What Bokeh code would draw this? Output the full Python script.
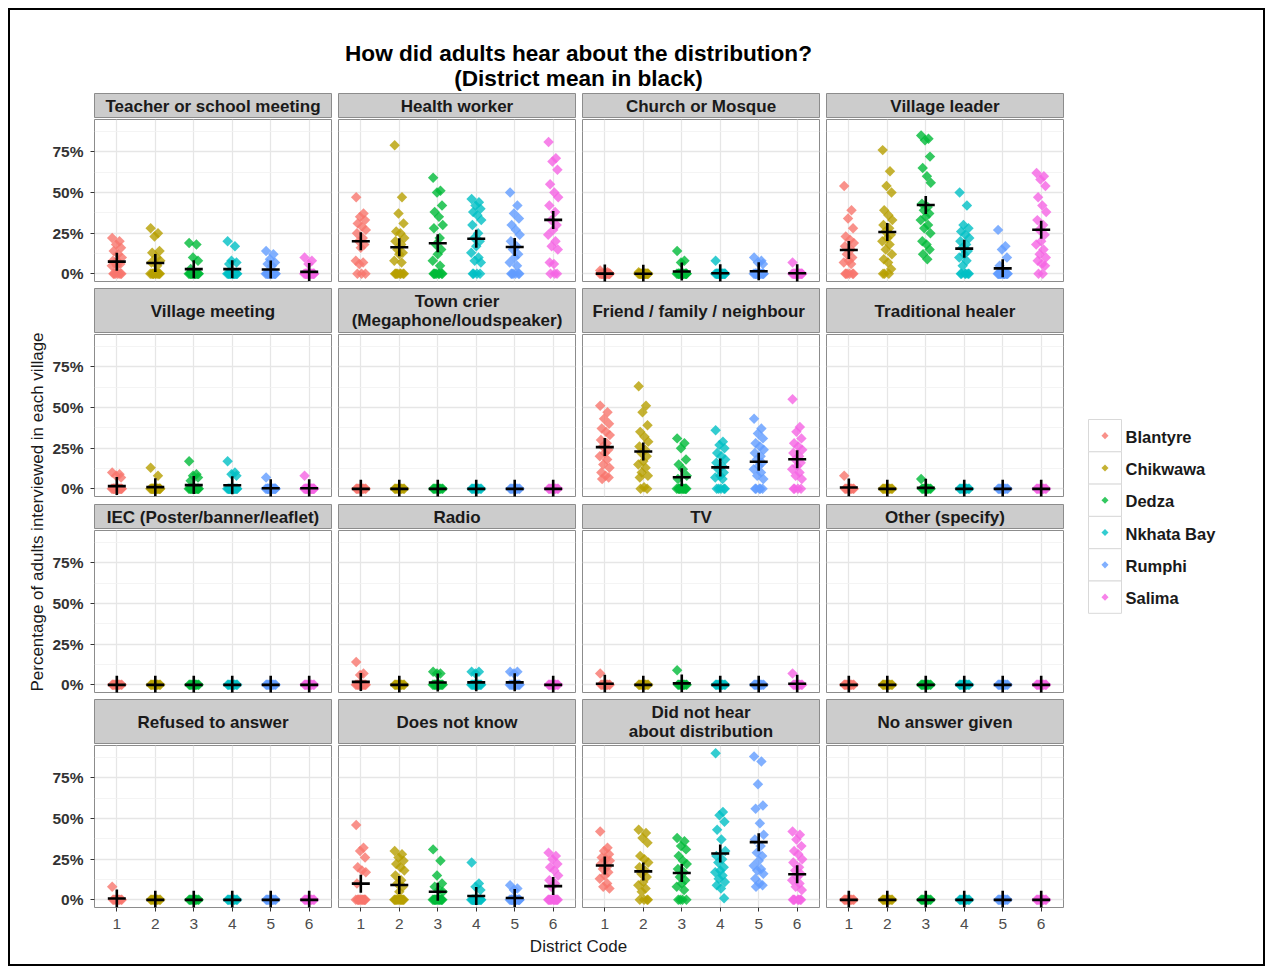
import numpy as np
from bokeh.plotting import figure
from bokeh.layouts import row, column
from bokeh.models import Range1d, FixedTicker, NumeralTickFormatter
from bokeh.core.properties import value
from bokeh.embed import file_html
from bokeh.resources import INLINE

FONT = "Liberation Sans"

# ---------------- data ----------------
DISTRICTS = ["Blantyre", "Chikwawa", "Dedza", "Nkhata Bay", "Rumphi", "Salima"]
CODES = [1, 2, 3, 4, 5, 6]
COLORS = ["#F8766D", "#B79F00", "#00BA38", "#00BFC4", "#619CFF", "#F564E3"]
Y_BREAKS = [0.0, 0.25, 0.5, 0.75]
Y_MINOR = [0.125, 0.375, 0.625, 0.875]

FACETS = [
    "Teacher or school meeting", "Health worker", "Church or Mosque", "Village leader",
    "Village meeting", "Town crier\n(Megaphone/loudspeaker)", "Friend /  family / neighbour", "Traditional healer",
    "IEC (Poster/banner/leaflet)", "Radio", "TV", "Other (specify)",
    "Refused to answer", "Does not know", "Did not hear\nabout distribution", "No answer given",
]

# share of adults per village, one list per district (1..6)
teacher = [
    [0.22, 0.20, 0.18, 0.16, 0.14, 0.12, 0.10, 0.08, 0.07, 0.07, 0.06, 0.05, 0.05, 0, 0, 0, 0, 0, 0, 0],
    [0.28, 0.25, 0.23, 0.14, 0.13, 0.10, 0.08, 0.07, 0.05, 0, 0, 0, 0, 0, 0, 0, 0, 0, 0, 0],
    [0.19, 0.18, 0.10, 0.08, 0.03, 0, 0, 0, 0, 0, 0, 0, 0, 0, 0, 0, 0, 0, 0, 0],
    [0.20, 0.17, 0.08, 0.07, 0.06, 0, 0, 0, 0, 0, 0, 0, 0, 0, 0, 0, 0, 0, 0, 0],
    [0.14, 0.12, 0.09, 0.07, 0.06, 0.05, 0, 0, 0, 0, 0, 0, 0, 0, 0, 0, 0, 0, 0, 0],
    [0.10, 0.08, 0.06, 0, 0, 0, 0, 0, 0, 0, 0, 0, 0, 0, 0, 0, 0, 0, 0, 0],
]
health = [
    [0.47, 0.37, 0.35, 0.33, 0.31, 0.29, 0.27, 0.25, 0.22, 0.20, 0.18, 0.16, 0.08, 0.07, 0.06, 0, 0, 0],
    [0.79, 0.47, 0.37, 0.31, 0.26, 0.25, 0.22, 0.20, 0.18, 0.15, 0.13, 0.12, 0.08, 0.07, 0, 0, 0, 0, 0, 0, 0, 0],
    [0.59, 0.51, 0.50, 0.42, 0.38, 0.35, 0.30, 0.28, 0.22, 0.18, 0.15, 0.12, 0.08, 0.05, 0, 0, 0, 0, 0, 0, 0, 0],
    [0.46, 0.44, 0.42, 0.40, 0.38, 0.36, 0.33, 0.30, 0.25, 0.22, 0.20, 0.17, 0.13, 0.10, 0.08, 0.07, 0, 0, 0, 0],
    [0.50, 0.42, 0.37, 0.34, 0.30, 0.27, 0.24, 0.20, 0.17, 0.15, 0.12, 0.10, 0.07, 0.05, 0, 0, 0, 0, 0, 0],
    [0.81, 0.71, 0.69, 0.64, 0.55, 0.50, 0.47, 0.42, 0.38, 0.33, 0.30, 0.27, 0.24, 0.20, 0.17, 0.15, 0.07, 0.06, 0, 0, 0],
]
church = [
    [0.02, 0.01, 0, 0, 0, 0, 0, 0, 0, 0, 0, 0, 0, 0, 0, 0, 0, 0, 0, 0],
    [0.01, 0, 0, 0, 0, 0, 0, 0, 0, 0, 0, 0, 0, 0, 0, 0, 0, 0, 0, 0],
    [0.14, 0.08, 0.07, 0, 0, 0, 0, 0, 0, 0, 0, 0, 0, 0, 0, 0, 0, 0, 0, 0],
    [0.08, 0, 0, 0, 0, 0, 0, 0, 0, 0, 0, 0, 0, 0, 0, 0, 0, 0, 0, 0],
    [0.10, 0.08, 0.07, 0.06, 0, 0, 0, 0, 0, 0, 0, 0, 0, 0, 0, 0, 0, 0, 0, 0],
    [0.07, 0, 0, 0, 0, 0, 0, 0, 0, 0, 0, 0, 0, 0, 0, 0, 0, 0, 0, 0],
]
leader = [
    [0.54, 0.39, 0.34, 0.28, 0.23, 0.21, 0.19, 0.17, 0.15, 0.12, 0.10, 0.08, 0.07, 0.06, 0, 0, 0, 0, 0, 0],
    [0.76, 0.63, 0.54, 0.50, 0.39, 0.36, 0.33, 0.30, 0.28, 0.26, 0.24, 0.22, 0.20, 0.18, 0.15, 0.12, 0.09, 0.07, 0.03, 0, 0, 0],
    [0.85, 0.83, 0.82, 0.72, 0.65, 0.60, 0.56, 0.43, 0.41, 0.39, 0.37, 0.35, 0.33, 0.30, 0.28, 0.25, 0.20, 0.18, 0.15, 0.12, 0.09],
    [0.50, 0.42, 0.30, 0.28, 0.26, 0.24, 0.22, 0.20, 0.18, 0.16, 0.14, 0.12, 0.10, 0.08, 0.05, 0, 0, 0, 0, 0, 0],
    [0.27, 0.17, 0.15, 0.10, 0.05, 0, 0, 0, 0, 0, 0, 0, 0, 0, 0, 0, 0, 0, 0, 0, 0, 0],
    [0.62, 0.60, 0.58, 0.54, 0.47, 0.42, 0.38, 0.33, 0.30, 0.27, 0.24, 0.20, 0.18, 0.15, 0.12, 0.10, 0.08, 0.06, 0.05, 0, 0],
]
meeting = [
    [0.10, 0.09, 0.08, 0.07, 0, 0, 0, 0, 0, 0, 0, 0, 0, 0, 0, 0, 0, 0, 0, 0],
    [0.13, 0.08, 0, 0, 0, 0, 0, 0, 0, 0, 0, 0, 0, 0, 0, 0, 0, 0, 0, 0],
    [0.17, 0.09, 0.08, 0.07, 0.05, 0, 0, 0, 0, 0, 0, 0, 0, 0, 0, 0, 0, 0, 0, 0],
    [0.17, 0.10, 0.09, 0.08, 0, 0, 0, 0, 0, 0, 0, 0, 0, 0, 0, 0, 0, 0, 0, 0],
    [0.07, 0, 0, 0, 0, 0, 0, 0, 0, 0, 0, 0, 0, 0, 0, 0, 0, 0, 0, 0],
    [0.08, 0, 0, 0, 0, 0, 0, 0, 0, 0, 0, 0, 0, 0, 0, 0, 0, 0, 0, 0],
]
crier = [
    [0, 0, 0, 0, 0, 0, 0, 0, 0, 0],
    [0, 0, 0, 0, 0, 0, 0, 0, 0, 0],
    [0, 0, 0, 0, 0, 0, 0, 0, 0, 0],
    [0, 0, 0, 0, 0, 0, 0, 0, 0, 0],
    [0, 0, 0, 0, 0, 0, 0, 0, 0, 0],
    [0, 0, 0, 0, 0, 0, 0, 0, 0, 0],
]
friend = [
    [0.51, 0.47, 0.43, 0.40, 0.37, 0.35, 0.33, 0.30, 0.28, 0.26, 0.24, 0.22, 0.20, 0.18, 0.15, 0.13, 0.10, 0.08, 0.07, 0.06],
    [0.63, 0.51, 0.47, 0.39, 0.35, 0.32, 0.29, 0.26, 0.24, 0.22, 0.20, 0.17, 0.15, 0.13, 0.10, 0.08, 0.07, 0.01, 0, 0],
    [0.31, 0.28, 0.25, 0.18, 0.15, 0.12, 0.08, 0.06, 0, 0, 0, 0, 0, 0, 0, 0, 0, 0, 0, 0],
    [0.36, 0.29, 0.27, 0.25, 0.22, 0.20, 0.18, 0.16, 0.14, 0.12, 0.10, 0.08, 0.07, 0.06, 0, 0, 0, 0, 0],
    [0.43, 0.37, 0.34, 0.31, 0.28, 0.26, 0.24, 0.22, 0.20, 0.18, 0.16, 0.14, 0.12, 0.10, 0.08, 0.06, 0, 0, 0, 0, 0],
    [0.55, 0.38, 0.35, 0.31, 0.28, 0.26, 0.24, 0.22, 0.20, 0.18, 0.16, 0.14, 0.12, 0.10, 0.08, 0.06, 0, 0, 0, 0],
]
healer = [
    [0.08, 0, 0, 0, 0, 0, 0, 0, 0, 0],
    [0, 0, 0, 0, 0, 0, 0, 0, 0, 0],
    [0.06, 0, 0, 0, 0, 0, 0, 0, 0, 0],
    [0, 0, 0, 0, 0, 0, 0, 0, 0, 0],
    [0, 0, 0, 0, 0, 0, 0, 0, 0, 0],
    [0, 0, 0, 0, 0, 0, 0, 0, 0, 0],
]
iec = [
    [0, 0, 0, 0, 0, 0, 0, 0, 0, 0],
    [0, 0, 0, 0, 0, 0, 0, 0, 0, 0],
    [0, 0, 0, 0, 0, 0, 0, 0, 0, 0],
    [0, 0, 0, 0, 0, 0, 0, 0, 0, 0],
    [0, 0, 0, 0, 0, 0, 0, 0, 0, 0],
    [0, 0, 0, 0, 0, 0, 0, 0, 0, 0],
]
radio = [
    [0.14, 0.07, 0.06, 0, 0, 0, 0, 0, 0, 0, 0, 0, 0, 0, 0],
    [0, 0, 0, 0, 0, 0, 0, 0, 0, 0],
    [0.08, 0.07, 0.07, 0, 0, 0, 0, 0, 0, 0, 0, 0, 0, 0, 0],
    [0.08, 0.08, 0.07, 0, 0, 0, 0, 0, 0, 0, 0, 0, 0, 0, 0],
    [0.08, 0.08, 0.07, 0, 0, 0, 0, 0, 0, 0, 0, 0, 0, 0, 0],
    [0, 0, 0, 0, 0, 0, 0, 0, 0, 0],
]
tv = [
    [0.07, 0, 0, 0, 0, 0, 0, 0, 0, 0],
    [0, 0, 0, 0, 0, 0, 0, 0, 0, 0],
    [0.09, 0, 0, 0, 0, 0, 0, 0, 0, 0],
    [0, 0, 0, 0, 0, 0, 0, 0, 0, 0],
    [0, 0, 0, 0, 0, 0, 0, 0, 0, 0],
    [0.07, 0, 0, 0, 0, 0, 0, 0, 0, 0],
]
other = [
    [0, 0, 0, 0, 0, 0, 0, 0, 0, 0],
    [0, 0, 0, 0, 0, 0, 0, 0, 0, 0],
    [0, 0, 0, 0, 0, 0, 0, 0, 0, 0],
    [0, 0, 0, 0, 0, 0, 0, 0, 0, 0],
    [0, 0, 0, 0, 0, 0, 0, 0, 0, 0],
    [0, 0, 0, 0, 0, 0, 0, 0, 0, 0],
]
refused = [
    [0.08, 0, 0, 0, 0, 0, 0, 0, 0, 0],
    [0, 0, 0, 0, 0, 0, 0, 0, 0, 0],
    [0, 0, 0, 0, 0, 0, 0, 0, 0, 0],
    [0, 0, 0, 0, 0, 0, 0, 0, 0, 0],
    [0, 0, 0, 0, 0, 0, 0, 0, 0, 0],
    [0, 0, 0, 0, 0, 0, 0, 0, 0, 0],
]
dontknow = [
    [0.46, 0.32, 0.30, 0.26, 0.20, 0.18, 0.17, 0.10, 0, 0, 0, 0, 0, 0, 0, 0, 0, 0, 0, 0],
    [0.30, 0.28, 0.26, 0.24, 0.22, 0.20, 0.18, 0.15, 0.12, 0.10, 0.08, 0.05, 0, 0, 0, 0, 0, 0, 0, 0, 0, 0, 0, 0],
    [0.31, 0.24, 0.15, 0.10, 0.08, 0.06, 0.05, 0, 0, 0, 0, 0, 0, 0, 0, 0, 0, 0, 0, 0],
    [0.23, 0.10, 0.08, 0.06, 0, 0, 0, 0, 0, 0, 0, 0, 0, 0, 0, 0, 0, 0, 0, 0],
    [0.09, 0.07, 0.06, 0, 0, 0, 0, 0, 0, 0, 0, 0, 0, 0, 0, 0, 0, 0, 0, 0],
    [0.29, 0.27, 0.25, 0.22, 0.20, 0.18, 0.15, 0.12, 0.10, 0.08, 0, 0, 0, 0, 0, 0, 0, 0, 0, 0, 0, 0],
]
nothear = [
    [0.42, 0.32, 0.30, 0.28, 0.26, 0.25, 0.24, 0.22, 0.20, 0.19, 0.17, 0.15, 0.13, 0.10, 0.08, 0.07],
    [0.43, 0.41, 0.38, 0.35, 0.27, 0.25, 0.23, 0.20, 0.18, 0.16, 0.14, 0.11, 0.09, 0.07, 0.05, 0, 0, 0, 0],
    [0.38, 0.36, 0.33, 0.31, 0.27, 0.24, 0.22, 0.19, 0.17, 0.14, 0.12, 0.10, 0.08, 0.06, 0, 0, 0, 0],
    [0.90, 0.54, 0.52, 0.48, 0.43, 0.37, 0.30, 0.27, 0.25, 0.23, 0.20, 0.18, 0.17, 0.15, 0.13, 0.11, 0.09, 0.07, 0.01],
    [0.88, 0.85, 0.71, 0.58, 0.56, 0.47, 0.40, 0.37, 0.33, 0.29, 0.27, 0.24, 0.21, 0.19, 0.18, 0.16, 0.13, 0.10, 0.09, 0.08],
    [0.42, 0.40, 0.37, 0.33, 0.30, 0.28, 0.25, 0.23, 0.20, 0.18, 0.16, 0.14, 0.12, 0.10, 0.08, 0.06, 0, 0, 0, 0, 0, 0, 0],
]
noanswer = [
    [0, 0, 0, 0, 0, 0, 0, 0, 0, 0],
    [0, 0, 0, 0, 0, 0, 0, 0, 0, 0],
    [0, 0, 0, 0, 0, 0, 0, 0, 0, 0],
    [0, 0, 0, 0, 0, 0, 0, 0, 0, 0],
    [0, 0, 0, 0, 0, 0, 0, 0, 0, 0],
    [0, 0, 0, 0, 0, 0, 0, 0, 0, 0],
]

PANEL_DATA = [teacher, health, church, leader,
              meeting, crier, friend, healer,
              iec, radio, tv, other,
              refused, dontknow, nothear, noanswer]

# fixed horizontal jitter pattern (presentation only)
JIT = [-0.12, 0.07, -0.02, 0.11, -0.08, 0.03, 0.13, -0.10, 0.05, -0.05,
       0.09, 0.00, -0.13, 0.06, -0.04, 0.12, -0.09, 0.02, 0.10, -0.07,
       0.04, -0.11, 0.08, -0.01]

# ---------------- layout constants ----------------
FW, FH = 237, 162
LEFT0 = 46
GAPR = 6
STRIP_H = [26, 46, 26, 46]
BOTTOM = [6, 7, 6, 28]
BORDER = "#8C8C8C"


def base_fig(**kw):
    kw.setdefault("output_backend", "svg")
    kw.setdefault("toolbar_location", None)
    kw.setdefault("title", None)
    kw.setdefault("min_border", 0)
    p = figure(**kw)
    p.border_fill_color = "white"
    return p


def make_strip(label, ci, ri):
    left = LEFT0 if ci == 0 else 1
    p = base_fig(width=left + FW + GAPR, height=STRIP_H[ri],
                 x_range=Range1d(0, 1), y_range=Range1d(0, 1),
                 x_axis_location=None, y_axis_location=None,
                 min_border_left=left, min_border_right=GAPR, min_border_top=1, min_border_bottom=0)
    p.grid.visible = False
    p.background_fill_color = "#CCCCCC"
    p.outline_line_color = BORDER
    p.outline_line_width = 1
    p.text(x=[0.5], y=[0.5], text=[label], text_align="center", text_baseline="middle",
           text_font=value(FONT), text_font_size="17px", text_font_style="bold",
           text_color="#1A1A1A", text_line_height=1.0)
    return p


def make_panel(k, ci, ri):
    left = LEFT0 if ci == 0 else 1
    bottom = BOTTOM[ri]
    p = base_fig(width=left + FW + GAPR, height=1 + FH + bottom,
                 x_range=Range1d(0.42, 6.58), y_range=Range1d(-0.047, 0.948),
                 x_axis_location="below" if ri == 3 else None,
                 y_axis_location="left" if ci == 0 else None,
                 min_border_left=left, min_border_right=GAPR, min_border_top=1, min_border_bottom=bottom)
    p.background_fill_color = "white"
    p.outline_line_color = BORDER
    p.outline_line_width = 1
    yt = FixedTicker(ticks=Y_BREAKS, minor_ticks=Y_MINOR)
    xt = FixedTicker(ticks=CODES, minor_ticks=[])
    p.ygrid.ticker = yt
    p.xgrid.ticker = xt
    p.grid.grid_line_color = "#E6E6E6"
    p.grid.grid_line_width = 1.3
    p.ygrid.minor_grid_line_color = "#F1F1F1"
    p.ygrid.minor_grid_line_width = 0.8
    if ci == 0:
        ax = p.yaxis[0]
        ax.ticker = yt
        ax.formatter = NumeralTickFormatter(format="0%")
        ax.axis_line_color = None
        ax.major_tick_out = 4
        ax.major_tick_in = 0
        ax.minor_tick_out = 0
        ax.minor_tick_in = 0
        ax.major_tick_line_color = "#333333"
        ax.major_label_standoff = 7
        ax.major_label_text_font = FONT
        ax.major_label_text_font_size = "15.5px"
        ax.major_label_text_font_style = "bold"
        ax.major_label_text_color = "#333333"
    if ri == 3:
        ax = p.xaxis[0]
        ax.ticker = xt
        ax.axis_line_color = None
        ax.major_tick_out = 4
        ax.major_tick_in = 0
        ax.minor_tick_out = 0
        ax.minor_tick_in = 0
        ax.major_tick_line_color = "#333333"
        ax.major_label_standoff = 7
        ax.major_label_text_font = FONT
        ax.major_label_text_font_size = "15.5px"
        ax.major_label_text_color = "#4D4D4D"

    series = PANEL_DATA[k]
    for j, vals in enumerate(series):
        xs = [CODES[j] + JIT[i % len(JIT)] for i in range(len(vals))]
        p.scatter(x=xs, y=vals, marker="square", angle=np.pi / 4, size=7.4,
                  fill_color=COLORS[j], fill_alpha=0.8, line_color=None)
    means = [float(np.mean(v)) for v in series]
    p.scatter(x=CODES, y=means, marker="cross", size=18, line_color="black", line_width=2.6)
    return p


grid_rows = []
for ri in range(4):
    grid_rows.append(row([make_strip(FACETS[ri * 4 + ci], ci, ri) for ci in range(4)], spacing=0))
    grid_rows.append(row([make_panel(ri * 4 + ci, ci, ri) for ci in range(4)], spacing=0))
grid = column(grid_rows, spacing=0)

GRID_H = sum(STRIP_H) + sum(1 + FH + b for b in BOTTOM)   # 843
YLAB_W = 38
LEG_W = 194
TOTAL_W = YLAB_W + (LEFT0 + FW + GAPR) + 3 * (1 + FW + GAPR) + LEG_W
TITLE_H = 82
XLAB_H = 29

# y-axis title
ylab = base_fig(width=YLAB_W, height=GRID_H, x_range=Range1d(0, YLAB_W), y_range=Range1d(GRID_H, 0),
                x_axis_location=None, y_axis_location=None)
ylab.grid.visible = False
ylab.outline_line_color = None
ylab.text(x=[27], y=[419.5], text=["Percentage of adults interviewed in each village"], angle=np.pi / 2,
          text_align="center", text_baseline="middle", text_font=value(FONT), text_font_size="17px",
          text_color="#1A1A1A")

# legend
leg = base_fig(width=LEG_W, height=GRID_H, x_range=Range1d(0, LEG_W), y_range=Range1d(GRID_H, 0),
               x_axis_location=None, y_axis_location=None)
leg.grid.visible = False
leg.outline_line_color = None
KEY = 32.3
key_top = [327 + i * KEY for i in range(len(DISTRICTS))]
leg.quad(left=19, right=52, top=key_top, bottom=[t + KEY for t in key_top],
         fill_color="#FFFFFF", line_color="#D9D9D9", line_width=1)
key_mid = [t + KEY / 2 for t in key_top]
leg.scatter(x=[35.5] * len(DISTRICTS), y=key_mid, marker="square", angle=np.pi / 4, size=5.0,
            fill_color=COLORS, fill_alpha=0.8, line_color=None)
leg.text(x=[56] * len(DISTRICTS), y=[m + 1 for m in key_mid], text=DISTRICTS, text_align="left",
         text_baseline="middle", text_font=value(FONT), text_font_size="16.5px", text_font_style="bold",
         text_color="#1A1A1A")

# title
tfig = base_fig(width=TOTAL_W, height=TITLE_H, x_range=Range1d(0, TOTAL_W), y_range=Range1d(TITLE_H, 0),
                x_axis_location=None, y_axis_location=None)
tfig.grid.visible = False
tfig.outline_line_color = None
tfig.text(x=[568], y=[55.5], text=["How did adults hear about the distribution?\n(District mean in black)"],
          text_align="center", text_baseline="middle", text_font=value(FONT), text_font_size="22.6px",
          text_font_style="bold", text_color="#000000", text_line_height=0.98)

# x-axis title
xfig = base_fig(width=TOTAL_W, height=XLAB_H, x_range=Range1d(0, TOTAL_W), y_range=Range1d(XLAB_H, 0),
                x_axis_location=None, y_axis_location=None)
xfig.grid.visible = False
xfig.outline_line_color = None
xfig.text(x=[568], y=[11], text=["District Code"], text_align="center", text_baseline="middle",
          text_font=value(FONT), text_font_size="17px", text_color="#1A1A1A")

layout = column(tfig, row(ylab, grid, leg, spacing=0), xfig, spacing=0,
                styles={"border": "2px solid black", "background-color": "white",
                        "margin": "8px 0 0 8px"})

open("out.html", "w").write(file_html(layout, INLINE))
